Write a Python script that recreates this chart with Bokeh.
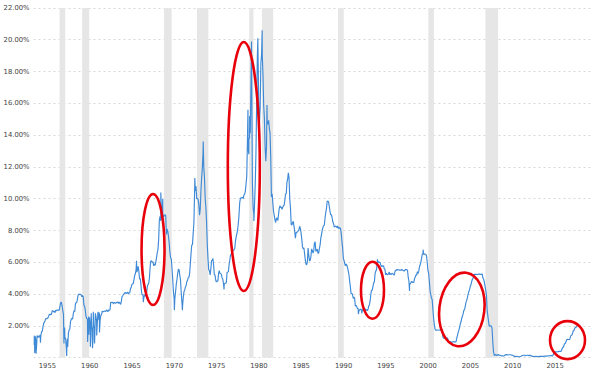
import numpy as np
from bokeh.plotting import figure
from bokeh.models import FixedTicker, CustomJSTickFormatter, Range1d
from bokeh.embed import file_html
from bokeh.resources import INLINE

# ---------------- data ----------------
first_month = 1954.5  # July 1954
rates_1950s = [0.80, 1.22, 1.07, 0.85, 0.83, 1.28,
               1.39, 1.29, 1.35, 1.43, 1.43, 1.64, 1.68, 1.96, 2.18, 2.24, 2.35, 2.48,
               2.45, 2.50, 2.50, 2.62, 2.75, 2.71, 2.75, 2.73, 2.95, 2.96, 2.88, 2.94,
               2.84, 3.00, 2.96, 3.00, 3.00, 3.00, 2.99, 3.24, 3.47, 3.50, 3.28, 2.98,
               2.72, 1.67, 1.20, 1.26, 0.63, 0.93, 0.68, 1.53, 1.76, 1.80, 2.27, 2.42,
               2.48, 2.43, 2.80, 2.96, 2.90, 3.39, 3.47, 3.50, 3.76, 3.98, 4.00, 3.99]
rates_1960s = [3.99, 3.97, 3.84, 3.92, 3.85, 3.32, 3.23, 2.98, 2.60, 2.47, 2.44, 1.98,
               1.45, 2.54, 2.02, 1.49, 1.98, 1.73, 1.17, 2.00, 1.88, 2.26, 2.61, 2.33,
               2.15, 2.37, 2.85, 2.78, 2.36, 2.68, 2.71, 2.93, 2.90, 2.90, 2.94, 2.93,
               2.92, 3.00, 2.98, 2.90, 3.00, 2.99, 3.02, 3.49, 3.48, 3.50, 3.48, 3.38,
               3.48, 3.48, 3.43, 3.47, 3.50, 3.50, 3.42, 3.50, 3.45, 3.36, 3.52, 3.85,
               3.90, 3.98, 4.04, 4.09, 4.10, 4.04, 4.09, 4.12, 4.01, 4.08, 4.10, 4.32,
               4.42, 4.60, 4.65, 4.67, 4.90, 5.17, 5.30, 5.53, 5.40, 5.53, 5.76, 5.40,
               4.94, 5.00, 4.53, 4.05, 3.94, 3.98, 3.79, 3.90, 3.99, 3.88, 4.13, 4.51,
               4.61, 4.71, 5.05, 5.76, 6.11, 6.07, 6.02, 6.03, 5.78, 5.91, 5.82, 6.02,
               6.30, 6.61, 6.79, 7.41, 8.67, 8.90, 8.61, 9.19, 9.15, 9.00, 8.85, 8.97]
rates_1970s = [8.98, 8.98, 7.76, 8.10, 7.95, 7.61, 7.21, 6.61, 6.29, 6.20, 5.60, 4.90,
               4.14, 3.72, 3.71, 4.16, 4.63, 4.91, 5.31, 5.56, 5.55, 5.20, 4.91, 4.14,
               3.50, 3.29, 3.83, 4.17, 4.27, 4.46, 4.55, 4.80, 4.87, 5.04, 5.06, 5.33,
               5.94, 6.58, 7.09, 7.12, 7.84, 8.49, 10.40, 10.50, 10.78, 10.01, 10.03, 9.95,
               9.65, 8.97, 9.35, 10.51, 11.31, 11.93, 12.92, 12.01, 11.34, 10.06, 9.45, 8.53,
               7.13, 6.24, 5.54, 5.49, 5.22, 5.55, 6.10, 6.14, 6.24, 5.82, 5.22, 5.20,
               4.87, 4.77, 4.84, 4.82, 5.29, 5.48, 5.31, 5.29, 5.25, 5.02, 4.95, 4.65,
               4.61, 4.68, 4.69, 4.73, 5.35, 5.39, 5.42, 5.90, 6.14, 6.47, 6.51, 6.56,
               6.70, 6.78, 6.79, 6.89, 7.36, 7.60, 7.81, 8.04, 8.45, 8.96, 9.76, 10.03,
               10.07, 10.06, 10.09, 10.01, 10.24, 10.29, 10.47, 10.94, 11.43, 13.77, 13.18, 13.78]
rates_1980s = [13.82, 14.13, 17.19, 17.61, 10.98, 9.47, 9.03, 9.61, 10.87, 12.81, 15.85, 18.90,
               19.08, 15.93, 14.70, 15.72, 18.52, 19.10, 19.04, 17.82, 15.87, 15.08, 13.31, 12.37,
               13.22, 14.78, 14.68, 14.94, 14.45, 14.15, 12.59, 10.12, 10.31, 9.71, 9.20, 8.95,
               8.68, 8.51, 8.77, 8.80, 8.63, 8.98, 9.37, 9.56, 9.45, 9.48, 9.34, 9.47,
               9.56, 9.59, 9.91, 10.29, 10.32, 11.06, 11.23, 11.64, 11.30, 9.99, 9.43, 8.38,
               8.35, 8.50, 8.58, 8.27, 7.97, 7.53, 7.88, 7.90, 7.92, 7.99, 8.05, 8.27,
               8.14, 7.86, 7.48, 6.99, 6.85, 6.92, 6.56, 6.17, 5.89, 5.85, 6.04, 6.91,
               6.43, 6.10, 6.13, 6.37, 6.85, 6.73, 6.58, 6.73, 7.22, 7.29, 6.69, 6.77,
               6.83, 6.58, 6.58, 6.87, 7.09, 7.51, 7.75, 8.01, 8.19, 8.30, 8.35, 8.76,
               9.12, 9.36, 9.85, 9.84, 9.81, 9.53, 9.24, 8.99, 9.02, 8.84, 8.55, 8.45]
rates_1990s = [8.23, 8.24, 8.28, 8.26, 8.18, 8.29, 8.15, 8.13, 8.20, 8.11, 7.81, 7.31,
               6.91, 6.25, 6.12, 5.91, 5.78, 5.90, 5.82, 5.66, 5.45, 5.21, 4.81, 4.43,
               4.03, 4.06, 3.98, 3.73, 3.82, 3.76, 3.25, 3.30, 3.22, 3.10, 3.09, 2.92,
               3.02, 3.03, 3.07, 2.96, 3.00, 3.04, 3.06, 3.03, 3.09, 2.99, 3.02, 2.96,
               3.05, 3.25, 3.34, 3.56, 4.01, 4.25, 4.26, 4.47, 4.73, 4.76, 5.29, 5.45,
               5.53, 5.92, 5.98, 6.05, 6.01, 6.00, 5.85, 5.74, 5.80, 5.76, 5.80, 5.60,
               5.56, 5.22, 5.31, 5.22, 5.24, 5.27, 5.40, 5.22, 5.30, 5.24, 5.31, 5.29,
               5.25, 5.19, 5.39, 5.51, 5.50, 5.56, 5.52, 5.54, 5.54, 5.50, 5.52, 5.50,
               5.56, 5.51, 5.49, 5.45, 5.49, 5.56, 5.54, 5.55, 5.51, 5.07, 4.83, 4.68,
               4.63, 4.76, 4.81, 4.74, 4.74, 4.76, 4.99, 5.07, 5.22, 5.20, 5.42, 5.30]
rates_2000s = [5.45, 5.73, 5.85, 6.02, 6.27, 6.53, 6.54, 6.50, 6.52, 6.51, 6.51, 6.40,
               5.98, 5.49, 5.31, 4.80, 4.21, 3.97, 3.77, 3.65, 3.07, 2.49, 2.09, 1.82,
               1.73, 1.74, 1.73, 1.75, 1.75, 1.75, 1.73, 1.74, 1.75, 1.75, 1.34, 1.24,
               1.24, 1.26, 1.25, 1.26, 1.26, 1.22, 1.01, 1.03, 1.01, 1.01, 1.00, 0.98,
               1.00, 1.01, 1.00, 1.00, 1.00, 1.03, 1.26, 1.43, 1.61, 1.76, 1.93, 2.16,
               2.28, 2.50, 2.63, 2.79, 3.00, 3.04, 3.26, 3.50, 3.62, 3.78, 4.00, 4.16,
               4.29, 4.49, 4.59, 4.79, 4.94, 4.99, 5.24, 5.25, 5.25, 5.25, 5.25, 5.24,
               5.25, 5.26, 5.26, 5.25, 5.25, 5.25, 5.26, 5.02, 4.94, 4.76, 4.49, 4.24,
               3.94, 2.98, 2.61, 2.28, 1.98, 2.00, 2.01, 2.00, 1.81, 0.97, 0.39, 0.16,
               0.15, 0.22, 0.18, 0.15, 0.18, 0.21, 0.16, 0.16, 0.15, 0.12, 0.12, 0.12]
rates_2010s = [0.11, 0.13, 0.16, 0.20, 0.20, 0.18, 0.18, 0.19, 0.19, 0.19, 0.19, 0.18,
               0.17, 0.16, 0.14, 0.10, 0.09, 0.09, 0.07, 0.10, 0.08, 0.07, 0.08, 0.07,
               0.08, 0.10, 0.13, 0.14, 0.16, 0.16, 0.16, 0.13, 0.14, 0.16, 0.16, 0.16,
               0.14, 0.15, 0.14, 0.15, 0.11, 0.09, 0.09, 0.08, 0.08, 0.09, 0.08, 0.09,
               0.07, 0.07, 0.08, 0.09, 0.09, 0.10, 0.09, 0.09, 0.09, 0.09, 0.09, 0.12,
               0.11, 0.11, 0.11, 0.12, 0.12, 0.13, 0.13, 0.14, 0.14, 0.12, 0.12, 0.24,
               0.34, 0.38, 0.36, 0.37, 0.37, 0.38, 0.39, 0.40, 0.40, 0.40, 0.41, 0.54,
               0.65, 0.66, 0.79, 0.90, 0.91, 1.04, 1.15, 1.16, 1.15, 1.15, 1.16, 1.30,
               1.41, 1.42, 1.51, 1.69, 1.70, 1.82, 1.91, 1.91, 1.98, 2.03]

# intra-month daily extremes visible in the chart
spike_years = [1954.56, 1954.64, 1954.72, 1954.80, 1954.92, 1955.32,
               1958.10, 1958.18, 1958.42, 1958.52,
               1960.90, 1961.02, 1961.22, 1961.32, 1961.47, 1961.57, 1961.72, 1961.82,
               1961.97, 1962.12, 1962.30,
               1966.68, 1967.48, 1969.55, 1969.68, 1969.78, 1971.15, 1972.10,
               1973.57, 1974.56, 1977.02,
               1979.85, 1979.95, 1980.05, 1980.27, 1980.55, 1981.02, 1981.53, 1982.10,
               1992.90, 1993.30, 1995.15, 1998.95, 2000.55]
spike_rates = [1.40, 0.30, 1.35, 0.25, 1.40, 0.95,
               0.90, 1.90, 0.12, 1.20,
               1.00, 2.60, 0.70, 2.80, 0.60, 2.90, 0.90, 2.80,
               1.40, 2.90, 1.60,
               6.10, 3.50, 10.40, 8.70, 10.00, 3.00, 3.00,
               11.30, 13.60, 4.30,
               15.60, 12.80, 15.20, 19.90, 8.60, 20.10, 20.60, 15.90,
               2.75, 2.80, 6.20, 4.20, 6.80]

recession_starts = [1957.58, 1960.25, 1969.92, 1973.83, 1980.00, 1981.50, 1990.50, 2001.17, 2007.92]
recession_ends = [1958.25, 1961.08, 1970.83, 1975.17, 1980.50, 1982.83, 1991.17, 2001.83, 2009.42]

rate_ticks = [2, 4, 6, 8, 10, 12, 14, 16, 18, 20, 22]
grid_levels = [0] + rate_ticks
year_ticks = [1955, 1960, 1965, 1970, 1975, 1980, 1985, 1990, 1995, 2000, 2005, 2010, 2015]

# rate-hike periods circled in red (centre year, centre rate)
highlight_years = [1968.63, 1979.36, 1994.57, 2005.13, 2017.62]
highlight_rates = [6.81, 12.03, 4.25, 3.04, 1.11]

# ---------------- build series ----------------
monthly = rates_1950s + rates_1960s + rates_1970s + rates_1980s + rates_1990s + rates_2000s + rates_2010s
month_x = first_month + (np.arange(len(monthly)) + 0.5) / 12.0
xs = np.concatenate([month_x, np.array(spike_years)])
ys = np.concatenate([np.array(monthly), np.array(spike_rates)])
order = np.argsort(xs, kind="stable")
xs, ys = xs[order], ys[order]

# ---------------- figure ----------------
px_per_year = 8.46
px_per_pct = 15.9
frame_w, frame_h = 559, 356
x_start = 1954.5
x_end = x_start + frame_w / px_per_year
y_end = 22 + 2.5 / px_per_pct
y_start = y_end - frame_h / px_per_pct

LABEL_FONT = "DejaVu Sans"

p = figure(width=600, height=371, output_backend="svg", toolbar_location=None,
           x_range=Range1d(x_start, x_end), y_range=Range1d(y_start, y_end),
           min_border_left=33, min_border_right=8, min_border_top=5, min_border_bottom=10)
p.background_fill_color = "white"
p.border_fill_color = "white"
p.outline_line_color = None

# recession bands
p.quad(left=recession_starts, right=recession_ends, bottom=0, top=22,
       fill_color="#e6e6e6", line_color=None)

# rate line
p.line(xs, ys, line_color="#3f8ad6", line_width=1.15)

# red ellipses
p.ellipse(x=highlight_years, y=highlight_rates,
          width=[23, 32, 23, 45, 35], height=[111, 249, 57, 74, 38],
          angle=[0, 0, 0, -0.12, 0],
          width_units="screen", height_units="screen",
          fill_color=None, line_color="#e8000b", line_width=2.6)

# grid
p.xgrid.visible = False
p.ygrid.ticker = FixedTicker(ticks=grid_levels)
p.ygrid.grid_line_color = "#d8d8d8"
p.ygrid.grid_line_dash = "2 3"
p.ygrid.grid_line_width = 1
p.ygrid.bounds = (1954.5, 2018.92)

# axes
for ax in (p.xaxis[0], p.yaxis[0]):
    ax.axis_line_color = None
    ax.major_tick_line_color = None
    ax.minor_tick_line_color = None
    ax.major_tick_out = 0
    ax.major_tick_in = 0
    ax.major_label_text_font = LABEL_FONT
    ax.major_label_text_font_size = "6.8px"
    ax.major_label_text_color = "#444444"

p.yaxis[0].ticker = FixedTicker(ticks=rate_ticks)
p.yaxis[0].formatter = CustomJSTickFormatter(code="return tick.toFixed(2) + '%';")
p.yaxis[0].major_label_standoff = 4

p.xaxis[0].ticker = FixedTicker(ticks=[y + 1.15 for y in year_ticks])
p.xaxis[0].formatter = CustomJSTickFormatter(code="return String(Math.round(tick - 1.15));")
p.xaxis[0].major_label_standoff = 1

open("out.html", "w").write(file_html(p, INLINE))
